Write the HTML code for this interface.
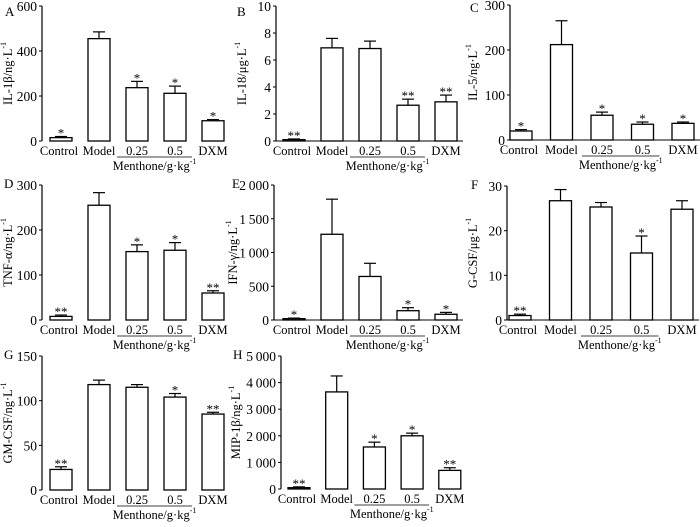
<!DOCTYPE html>
<html><head><meta charset="utf-8"><style>
html,body{margin:0;padding:0;background:#fff;}
svg, svg text{font-family:"Liberation Serif","DejaVu Serif",serif;}
</style></head><body>
<svg id="fig" width="700" height="522" viewBox="0 0 700 522" font-family="Liberation Serif, serif"></svg>
<script>
const categories = ["Control","Model","0.25","0.5","DXM"];
const valsA = [15,455,237,212,90];      const errA = [5,30,28,32,5];
const sigA = ["*","","*","*","*"];
const valsB = [0.1,6.9,6.85,2.65,2.9];  const errB = [0.05,0.7,0.55,0.45,0.5];
const sigB = ["**","","","**","**"];
const valsC = [20,212,55,35,37];        const errC = [3,53,7,5,3];
const sigC = ["*","","*","*","*"];
const valsD = [8,255,152,155,60];       const errD = [3,28,15,17,5];
const sigD = ["**","","*","*","**"];
const valsE = [20,1270,645,138,85];     const errE = [8,520,195,44,28];
const sigE = ["*","","","*","*"];
const valsF = [1,26.7,25.3,15,24.8];    const errF = [0.3,2.5,1,3.8,1.9];
const sigF = ["**","","","*",""];
const valsG = [23,118,115,104,85];      const errG = [3,5,3,4,2];
const sigG = ["**","","","*","**"];
const valsH = [50,3650,1580,2000,700];  const errH = [30,600,180,100,100];
const sigH = ["**","","*","*","**"];
const ticksA=[0,200,400,600], ticksB=[0,2,4,6,8,10], ticksC=[0,100,200,300], ticksD=[0,100,200,300];
const ticksE=[0,500,1000,1500,2000], ticksF=[0,10,20,30], ticksG=[0,50,100,150], ticksH=[0,1000,2000,3000,4000,5000];

const NS="http://www.w3.org/2000/svg";
const svg=document.getElementById('fig');
const FF='Liberation Serif, DejaVu Serif, serif';
function mk(tag,attrs,parent,text){const e=document.createElementNS(NS,tag);for(const k in attrs)e.setAttribute(k,attrs[k]);if(tag==='text')e.setAttribute('font-family',FF);if(text!==undefined)e.textContent=text;(parent||svg).appendChild(e);return e;}
function fmt(v){let s=String(v);if(v>=1000)s=s.slice(0,s.length-3)+"\u2009"+s.slice(-3);return s;}

const panels=[
 {id:"a",letter:"A",lx:5,ly:16,ax:42,y0:141,yt:6,max:600,ticks:ticksA,vals:valsA,err:errA,sig:sigA,start:19,step:38,xaxis:false,lab:"IL-1β/ng·L",labx:12},
 {id:"b",letter:"B",lx:237,ly:16,ax:276,y0:141,yt:6,max:10,ticks:ticksB,vals:valsB,err:errB,sig:sigB,start:18,step:38,xaxis:true,lab:"IL-18/μg·L",labx:246},
 {id:"c",letter:"C",lx:470,ly:12,ax:510,y0:140,yt:5,max:300,ticks:ticksC,vals:valsC,err:errC,sig:sigC,start:11,step:40.5,xaxis:true,lab:"IL-5/ng·L",labx:477},
 {id:"d",letter:"D",lx:4,ly:188,ax:42,y0:320,yt:185,max:300,ticks:ticksD,vals:valsD,err:errD,sig:sigD,start:19,step:38,xaxis:false,lab:"TNF-α/ng·L",labx:12},
 {id:"e",letter:"E",lx:232,ly:188,ax:274,y0:320,yt:185,max:2000,ticks:ticksE,vals:valsE,err:errE,sig:sigE,start:20,step:38,xaxis:true,lab:"IFN-γ/ng·L",labx:237},
 {id:"f",letter:"F",lx:471,ly:189,ax:507,y0:320,yt:186,max:30,ticks:ticksF,vals:valsF,err:errF,sig:sigF,start:13,step:40.5,xaxis:true,lab:"G-CSF/μg·L",labx:477},
 {id:"g",letter:"G",lx:4,ly:359,ax:42,y0:490,yt:356,max:150,ticks:ticksG,vals:valsG,err:errG,sig:sigG,start:19,step:38,xaxis:false,lab:"GM-CSF/ng·L",labx:12},
 {id:"h",letter:"H",lx:233,ly:359,ax:281,y0:489,yt:356,max:5000,ticks:ticksH,vals:valsH,err:errH,sig:sigH,start:18,step:37.7,xaxis:false,lab:"MIP-1β/ng·L",labx:240}
];
const BW=22;
panels.forEach(p=>{
  const g=mk('g',{});
  
  
  const ys=v=>p.y0-(v/p.max)*(p.y0-p.yt);
  const xs=i=>p.ax+p.start+i*p.step;
  const L=mk('text',{x:p.lx,y:p.ly,'font-size':13},g,p.letter);
  
  
  const ya=mk('line',{x1:p.ax,y1:p.yt,x2:p.ax,y2:p.y0,stroke:'#000','stroke-width':1.2},g);
  
  
  if(p.xaxis){
    const xa=mk('line',{x1:p.ax,y1:p.y0,x2:xs(4)+BW/2+6,y2:p.y0,stroke:'#000','stroke-width':1},g);
    
    
  }
  p.ticks.forEach(t=>{
    mk('line',{x1:p.ax-3,y1:ys(t),x2:p.ax,y2:ys(t),stroke:'#000','stroke-width':1},g);
    const tl=mk('text',{x:p.ax-5,y:ys(t)+5,'font-size':13.5,'text-anchor':'end'},g,fmt(t));
    
    
  });
  const yl=mk('text',{transform:`translate(${p.labx},${(p.yt+p.y0)/2}) rotate(-90)`,'font-size':12.5,'text-anchor':'middle'},g);
  
  
  mk('tspan',{},yl,p.lab);
  mk('tspan',{dy:-6,'font-size':8},yl,'-1');
  categories.forEach((c,i)=>{
    const cx=xs(i), top=ys(p.vals[i]), et=ys(p.vals[i]+p.err[i]);
    const eb=mk('line',{x1:cx,y1:top,x2:cx,y2:et,stroke:'#000','stroke-width':1.2},g);
    
    
    mk('line',{x1:cx-6,y1:et,x2:cx+6,y2:et,stroke:'#000','stroke-width':1.2},g);
    const r=mk('rect',{x:cx-BW/2,y:top,width:BW,height:Math.max(p.y0-top,0.5),fill:'#fff',stroke:'#000','stroke-width':1.3},g);
    
    
    if(p.sig[i]){
      const s=mk('text',{x:cx,y:et+1,'font-size':13,'text-anchor':'middle'},g,p.sig[i]);
      
      
    }
    const xl=mk('text',{x:cx+(i===0?-2:0),y:p.y0+14,'font-size':12.5,'text-anchor':'middle'},g,c);
    
    
  });
  const u1=xs(2)-20,u2=xs(3)+17;
  const ul=mk('line',{x1:u1,y1:p.y0+16,x2:u2,y2:p.y0+16,stroke:'#000','stroke-width':0.8},g);
  
  
  const gl=mk('text',{x:(u1+u2)/2,y:p.y0+29,'font-size':12.5,'text-anchor':'middle'},g);
  
  
  mk('tspan',{},gl,'Menthone/g·kg');
  mk('tspan',{dy:-6,'font-size':8},gl,'-1');
});
</script>
</body></html>
